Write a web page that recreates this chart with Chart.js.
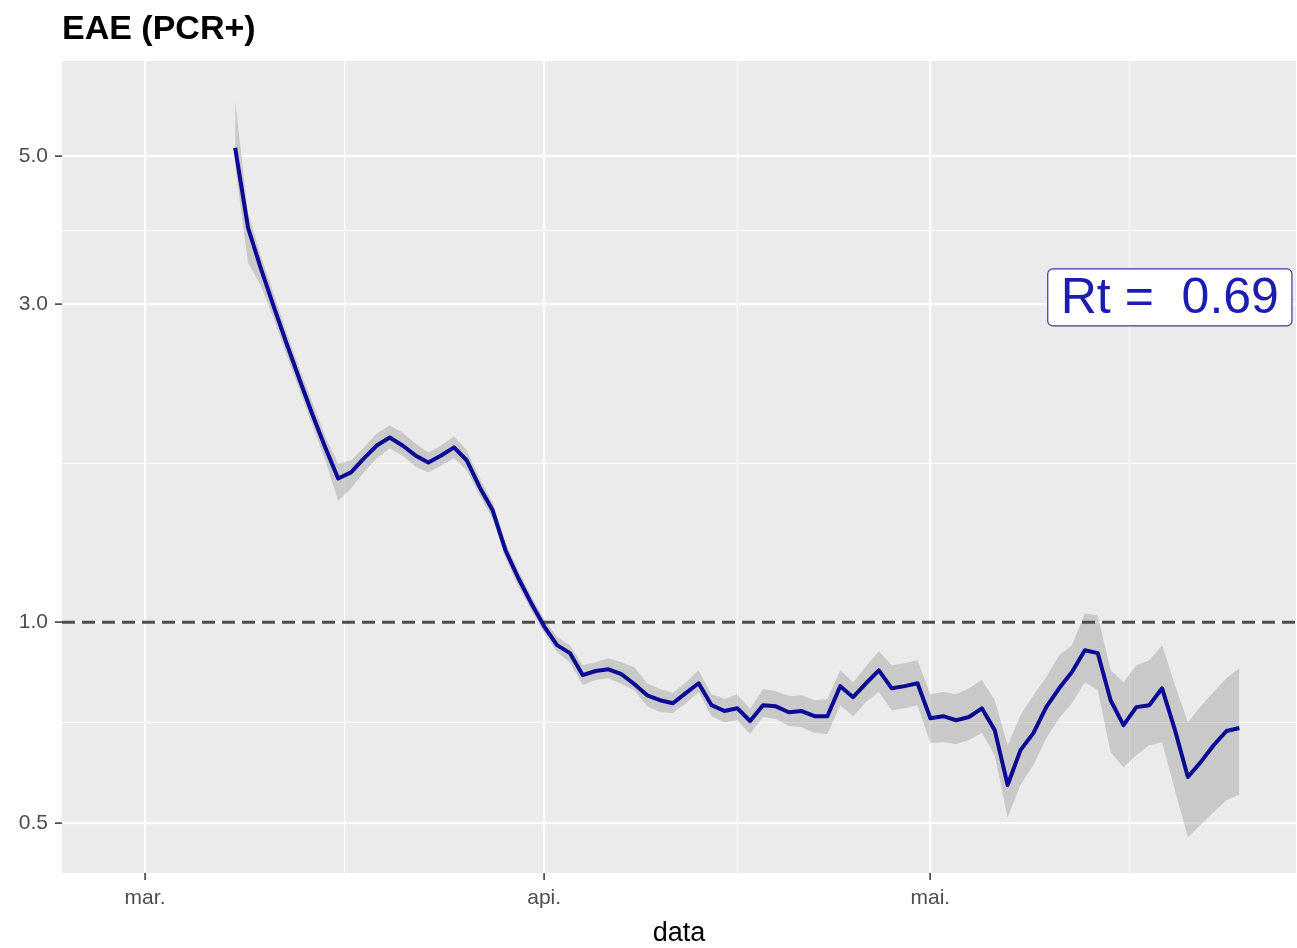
<!DOCTYPE html>
<html>
<head>
<meta charset="utf-8">
<script src="https://cdn.jsdelivr.net/npm/chart.js@4.4.1/dist/chart.umd.min.js"></script>
<style>
  html, body { margin: 0; padding: 0; background: #ffffff; }
  #wrap { width: 1297px; height: 948px; }
</style>
</head>
<body>
<div id="wrap"><canvas id="rtChart" width="1297" height="948"></canvas></div>
<script>
// dias contados a partir de 1 de março
const days = [
  7, 8, 9, 10, 11, 12, 13, 14, 15, 16,
  17, 18, 19, 20, 21, 22, 23, 24, 25, 26,
  27, 28, 29, 30, 31, 32, 33, 34, 35, 36,
  37, 38, 39, 40, 41, 42, 43, 44, 45, 46,
  47, 48, 49, 50, 51, 52, 53, 54, 55, 56,
  57, 58, 59, 60, 61, 62, 63, 64, 65, 66,
  67, 68, 69, 70, 71, 72, 73, 74, 75, 76,
  77, 78, 79, 80, 81, 82, 83, 84, 85
];

const rt = [
  5.145, 3.905, 3.390, 2.974, 2.617, 2.312, 2.049, 1.829, 1.643, 1.678,
  1.761, 1.841, 1.893, 1.841, 1.779, 1.736, 1.779, 1.829, 1.748, 1.593,
  1.472, 1.282, 1.164, 1.068, 0.986, 0.924, 0.899, 0.833, 0.845, 0.850,
  0.836, 0.808, 0.777, 0.764, 0.756, 0.783, 0.810, 0.751, 0.736, 0.743,
  0.711, 0.751, 0.748, 0.733, 0.736, 0.723, 0.723, 0.802, 0.772, 0.810,
  0.847, 0.796, 0.802, 0.810, 0.718, 0.723, 0.713, 0.721, 0.743, 0.689,
  0.570, 0.643, 0.682, 0.746, 0.796, 0.842, 0.908, 0.899, 0.764, 0.701,
  0.746, 0.751, 0.796, 0.689, 0.586, 0.617, 0.654, 0.687, 0.694
];

const rtUpper = [
  6.050, 4.113, 3.545, 3.110, 2.719, 2.401, 2.135, 1.899, 1.730, 1.748,
  1.829, 1.919, 1.972, 1.925, 1.854, 1.797, 1.841, 1.899, 1.810, 1.643,
  1.512, 1.318, 1.196, 1.094, 1.010, 0.950, 0.924, 0.862, 0.871, 0.883,
  0.871, 0.856, 0.810, 0.794, 0.783, 0.813, 0.847, 0.780, 0.767, 0.780,
  0.741, 0.794, 0.788, 0.775, 0.777, 0.764, 0.767, 0.847, 0.813, 0.859,
  0.905, 0.862, 0.868, 0.877, 0.780, 0.786, 0.780, 0.796, 0.819, 0.764,
  0.654, 0.726, 0.777, 0.827, 0.892, 0.924, 1.032, 1.024, 0.847, 0.813,
  0.862, 0.877, 0.924, 0.805, 0.708, 0.748, 0.786, 0.824, 0.853
];

const rtLower = [
  4.836, 3.461, 3.197, 2.853, 2.511, 2.226, 1.972, 1.748, 1.522, 1.587,
  1.678, 1.761, 1.822, 1.779, 1.712, 1.678, 1.718, 1.761, 1.689, 1.549,
  1.431, 1.247, 1.132, 1.042, 0.963, 0.902, 0.871, 0.805, 0.819, 0.824,
  0.808, 0.791, 0.748, 0.733, 0.731, 0.756, 0.786, 0.723, 0.708, 0.713,
  0.680, 0.721, 0.716, 0.699, 0.696, 0.682, 0.680, 0.751, 0.723, 0.759,
  0.786, 0.738, 0.743, 0.751, 0.659, 0.661, 0.657, 0.666, 0.682, 0.632,
  0.509, 0.570, 0.611, 0.670, 0.718, 0.756, 0.813, 0.791, 0.639, 0.606,
  0.632, 0.654, 0.661, 0.560, 0.476, 0.497, 0.519, 0.541, 0.551
];

const xTicks = [0, 31, 61];
const xTickLabels = ['mar.', 'api.', 'mai.'];
const xMinorTicks = [15.5, 46, 76.5];
const yTicks = [0.5, 1, 3, 5];
const yTickLabels = ['0.5', '1.0', '3.0', '5.0'];
const yMinorTicks = [0.707, 1.732, 3.873];
const xRange = [-6.45, 89.4];
const yRange = [0.4207, 6.945];
const refLevel = 1;
const rtLabel = 'Rt =  0.69';
const rtLabelPos = { x: 79.6, y: 3.07 };

const family = '"Liberation Sans", Arial, Helvetica, sans-serif';

function toPoints(vals) {
    return days.map((d, i) => ({ x: d, y: vals[i] }));
}

function mergeTicks(major, minor) {
    return major.map(v => ({ value: v }))
        .concat(minor.map(v => ({ value: v, minor: true })))
        .sort((a, b) => a.value - b.value);
}

// fundo cinzento do painel, estilo ggplot
const panelBackground = {
    id: 'panelBackground',
    beforeDraw(chart) {
        const { ctx, chartArea: a } = chart;
        ctx.save();
        ctx.fillStyle = '#EBEBEB';
        ctx.fillRect(a.left, a.top, a.right - a.left, a.bottom - a.top);
        ctx.restore();
    }
};

// etiqueta com o último Rt
const rtBox = {
    id: 'rtBox',
    afterDatasetsDraw(chart) {
        const { ctx, scales } = chart;
        const cx = scales.x.getPixelForValue(rtLabelPos.x);
        const cy = scales.y.getPixelForValue(rtLabelPos.y);
        ctx.save();
        ctx.font = '50px ' + family;
        const w = ctx.measureText(rtLabel).width + 26;
        const h = 57;
        ctx.beginPath();
        ctx.roundRect(cx - w / 2, cy - h / 2, w, h, 5);
        ctx.fillStyle = '#ffffff';
        ctx.fill();
        ctx.lineWidth = 1.2;
        ctx.strokeStyle = '#3a3aa8';
        ctx.stroke();
        ctx.fillStyle = '#1c1cb0';
        ctx.textAlign = 'center';
        ctx.textBaseline = 'middle';
        ctx.fillText(rtLabel, cx, cy + 2);
        ctx.restore();
    }
};

const gridWidth = c => (c.tick && c.tick.minor ? 1.1 : 2.2);
const tickColor = c => (c.tick && c.tick.minor ? 'rgba(0,0,0,0)' : '#333333');

new Chart(document.getElementById('rtChart').getContext('2d'), {
    type: 'line',
    data: {
        datasets: [
            {
                label: 'Rt',
                data: toPoints(rt),
                borderColor: '#0A0A95',
                borderWidth: 4,
                borderJoinStyle: 'round',
                pointRadius: 0,
                fill: false,
                order: 0
            },
            {
                label: 'ref',
                data: [{ x: xRange[0], y: refLevel }, { x: xRange[1], y: refLevel }],
                borderColor: '#4D4D4D',
                borderWidth: 3,
                borderDash: [13, 7],
                pointRadius: 0,
                fill: false,
                order: 1
            },
            {
                label: 'upper',
                data: toPoints(rtUpper),
                borderColor: 'rgba(0,0,0,0)',
                borderWidth: 0,
                pointRadius: 0,
                backgroundColor: 'rgba(160,160,160,0.45)',
                fill: '+1',
                order: 2
            },
            {
                label: 'lower',
                data: toPoints(rtLower),
                borderColor: 'rgba(0,0,0,0)',
                borderWidth: 0,
                pointRadius: 0,
                fill: false,
                order: 3
            }
        ]
    },
    options: {
        responsive: false,
        animation: false,
        devicePixelRatio: 1,
        layout: { padding: { left: 0, right: 1, top: 0, bottom: 0 } },
        plugins: {
            legend: { display: false },
            tooltip: { enabled: false },
            title: {
                display: true,
                text: 'EAE (PCR+)',
                align: 'start',
                fullSize: false,
                color: '#000000',
                font: { size: 34, weight: 'bold', family: family, lineHeight: 1 },
                padding: { top: 13, bottom: 14 }
            }
        },
        scales: {
            x: {
                type: 'linear',
                min: xRange[0],
                max: xRange[1],
                afterBuildTicks(scale) { scale.ticks = mergeTicks(xTicks, xMinorTicks); },
                afterFit(scale) { scale.height = 75; },
                border: { display: false },
                grid: { color: '#FFFFFF', lineWidth: gridWidth, tickColor: tickColor, tickLength: 7, tickWidth: 1.5 },
                ticks: {
                    autoSkip: false,
                    maxRotation: 0,
                    padding: 6,
                    color: '#4D4D4D',
                    font: { size: 21, family: family },
                    callback: v => { const i = xTicks.indexOf(v); return i >= 0 ? xTickLabels[i] : ''; }
                },
                title: {
                    display: true,
                    text: 'data',
                    color: '#000000',
                    font: { size: 27, family: family },
                    padding: { top: 0, bottom: -2 }
                }
            },
            y: {
                type: 'logarithmic',
                min: yRange[0],
                max: yRange[1],
                afterBuildTicks(scale) { scale.ticks = mergeTicks(yTicks, yMinorTicks); },
                afterFit(scale) { scale.width = 62; },
                border: { display: false },
                grid: { color: '#FFFFFF', lineWidth: gridWidth, tickColor: tickColor, tickLength: 7, tickWidth: 1.5 },
                ticks: {
                    autoSkip: false,
                    padding: 7,
                    color: '#4D4D4D',
                    font: { size: 21, family: family },
                    callback: v => { const i = yTicks.indexOf(v); return i >= 0 ? yTickLabels[i] : ''; }
                }
            }
        }
    },
    plugins: [panelBackground, rtBox]
});
</script>
</body>
</html>
